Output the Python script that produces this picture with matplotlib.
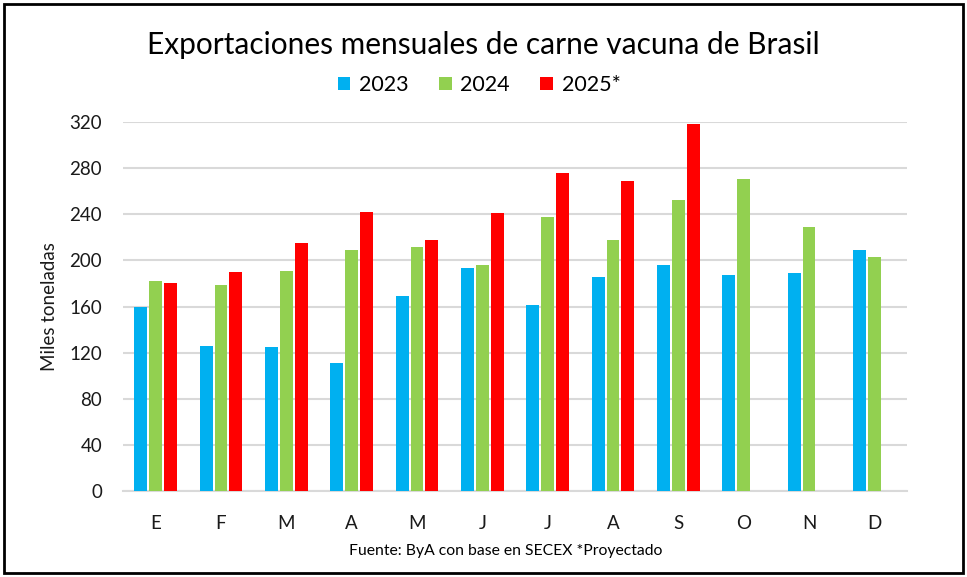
import matplotlib
matplotlib.use("Agg")
import matplotlib.pyplot as plt
import numpy as np
from matplotlib.patches import Rectangle

months = ["E", "F", "M", "A", "M", "J", "J", "A", "S", "O", "N", "D"]
v2023 = [160, 126, 125, 111, 169, 193, 161, 186, 196, 187, 189, 209]
v2024 = [182, 179, 191, 209, 212, 196, 238, 218, 252, 271, 229, 203]
v2025 = [180, 190, 215, 242, 218, 241, 276, 269, 318, np.nan, np.nan, np.nan]
series_names = ["2023", "2024", "2025*"]
colors = ["#00B0F0", "#92D050", "#FF0000"]
yticks = [0, 40, 80, 120, 160, 200, 240, 280, 320]

plt.rcParams['font.family'] = ['Lato', 'DejaVu Sans']

fig = plt.figure(figsize=(9.67, 5.77), dpi=100)
ax = fig.add_axes([123/967, (577-491)/577, 784/967, 369/577])

x = np.arange(len(months))
w = 0.195
step = 0.227
for i, (vals, c, n) in enumerate(zip([v2023, v2024, v2025], colors, series_names)):
    ax.bar(x + (i - 1) * step, vals, width=w, color=c, label=n, zorder=3)

ax.set_xlim(-0.5, len(months) - 0.5)
ax.set_ylim(0, 320)
ax.set_yticks(yticks)
ax.set_xticks(x)
ax.set_xticklabels(months)
ax.tick_params(axis='both', length=0, labelsize=13.5, colors='#1a1a1a')
ax.tick_params(axis='x', pad=17)
ax.tick_params(axis='y', pad=15)
ax.grid(axis='y', color='#d9d9d9', linewidth=1.5, zorder=0)
for s in ['top', 'right', 'left']:
    ax.spines[s].set_visible(False)
ax.spines['bottom'].set_color('#d9d9d9')
ax.spines['bottom'].set_linewidth(1.5)
ax.set_ylabel("Miles toneladas", fontsize=13.5, labelpad=8, color='#1a1a1a')

fig.text(0.5, 1 - 45/577, "Exportaciones mensuales de carne vacuna de Brasil",
         ha='center', va='center', fontsize=21.5)
leg = fig.legend(loc='center', bbox_to_anchor=(479/967, 1 - 85/577), ncol=3, frameon=False,
                 fontsize=15.5, handlelength=0.6, handleheight=0.6, handletextpad=0.4,
                 columnspacing=1.4)
fig.text(506/967, 1 - 551/577, "Fuente: ByA con base en SECEX *Proyectado",
         ha='center', va='center', fontsize=11.3)

fig.patches.append(Rectangle((4/967, 4/577), 959/967, 569/577, transform=fig.transFigure,
                             fill=False, edgecolor='black', linewidth=2))

fig.savefig("out.png", dpi=100)
